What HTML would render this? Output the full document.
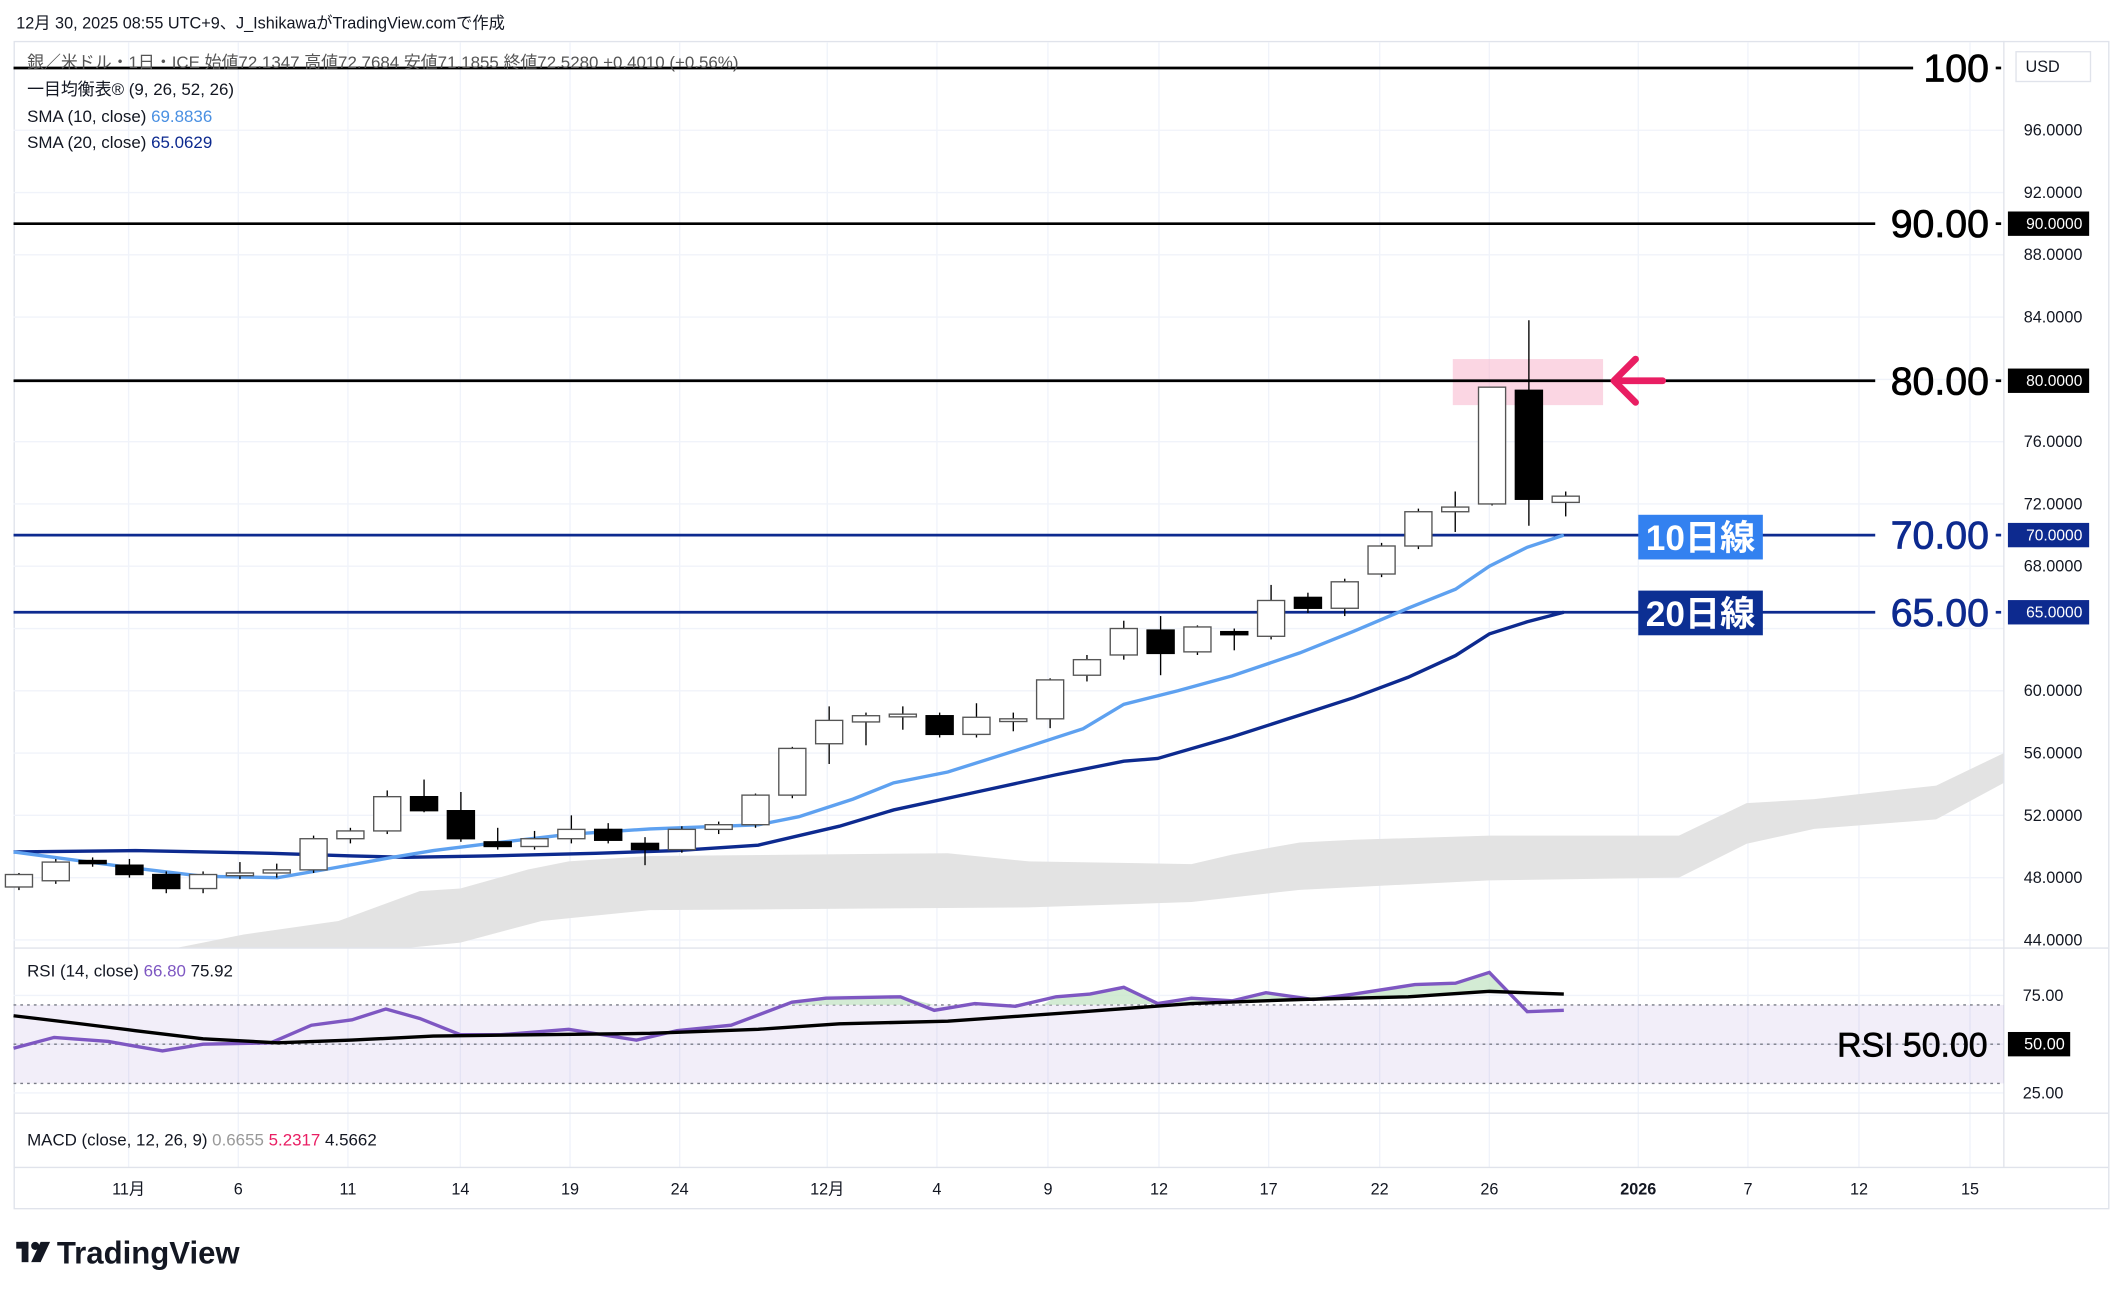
<!DOCTYPE html>
<html><head><meta charset="utf-8"><style>
html,body{margin:0;padding:0;background:#fff;}
svg{display:block;font-family:"Liberation Sans","Noto Sans CJK JP",sans-serif;}
</style></head><body>
<svg id="s" xmlns="http://www.w3.org/2000/svg" width="2123" height="1299" viewBox="0 0 1568 959">
<rect x="0" y="0" width="1568" height="959" fill="#fff"/>
<text x="12" y="21" font-size="12" fill="#131722">12月 30, 2025 08:55 UTC+9、J_IshikawaがTradingView.comで作成</text>
<rect x="10.5" y="30.5" width="1547" height="862" fill="none" stroke="#e0e3eb"/>
<g id="grid" stroke="#f0f3fa" stroke-width="1"></g>
<g id="cloud"></g>
<g id="pink"></g>
<g id="lines"></g>
<g id="candles"></g>
<g id="ann"></g>
<line x1="10" y1="700" x2="1557" y2="700" stroke="#e0e3eb"/>
<line x1="10" y1="822" x2="1557" y2="822" stroke="#e0e3eb"/>
<line x1="10" y1="862" x2="1557" y2="862" stroke="#e0e3eb"/>
<line x1="1480" y1="30" x2="1480" y2="862" stroke="#e0e3eb"/>
<g id="rsi"></g>
<g id="axis" font-size="12" fill="#131722"></g>
<g font-size="12.5" fill="#131722">
<text x="20" y="50" fill="#555">銀／米ドル・1日・ICE  始値72.1347  高値72.7684  安値71.1855  終値72.5280  +0.4010 (+0.56%)</text>
<text x="20" y="70">一目均衡表® (9, 26, 52, 26)</text>
<text x="20" y="90">SMA (10, close)  <tspan fill="#4a90e2">69.8836</tspan></text>
<text x="20" y="109">SMA (20, close)  <tspan fill="#0d2a8f">65.0629</tspan></text>
<text x="20" y="721">RSI (14, close)  <tspan fill="#7e57c2">66.80</tspan>  75.92</text>
<text x="20" y="846">MACD (close, 12, 26, 9)  <tspan fill="#999">0.6655</tspan>  <tspan fill="#e91e63">5.2317</tspan>  4.5662</text>
</g>
<g transform="translate(12,915)">
<rect x="0" y="2" width="9" height="5" fill="#131722"/><rect x="4" y="2" width="5" height="15" fill="#131722"/>
<circle cx="14" cy="5" r="3" fill="#131722"/><polygon points="18,2 25,2 18,17 11,17" fill="#131722"/>
<text x="30" y="18" font-size="23" font-weight="bold" fill="#131722">TradingView</text>
</g>
<script>
var NS="http://www.w3.org/2000/svg";
function el(p,t,a,txt){var e=document.createElementNS(NS,t);for(var k in a)e.setAttribute(k,a[k]);if(txt!==undefined)e.textContent=txt;document.getElementById(p).appendChild(e);return e;}
function Y(p){return 50+(100-p)*11.5;}
function X(i){return 14+i*27.2;}
var vx=[95,176,257,340,421,502,611,692,774,856,937,1019,1100,1210,1291,1373,1455];
vx.forEach(function(x){el("grid","line",{x1:x,y1:31,x2:x,y2:862});});
for(var p=44;p<=96;p+=4){el("grid","line",{x1:10,y1:Y(p),x2:1480,y2:Y(p)});}
[735,771,807].forEach(function(y){el("grid","line",{x1:10,y1:y,x2:1480,y2:y});});
el("cloud","polygon",{fill:"#e3e3e3",points:"130,700 180,690 250,680 310,658 340,656 390,642 420,636 480,632 700,630 760,636 880,638 910,631 960,622 1000,620 1100,617 1240,617 1290,593 1340,590 1430,580 1480,556 1480,578 1430,605 1340,612 1290,623 1240,648 1100,650 960,657 880,666 760,670 480,672 400,680 340,696 300,700"});
el("pink","rect",{x:1073,y:265,width:111,height:34,fill:"#f8bbd0","fill-opacity":0.6});
[[50,"#000",1413],[165,"#000",1385],[281,"#000",1385],[395,"#0d2a8f",1385],[452,"#0d2a8f",1385]].forEach(function(a){el("lines","line",{x1:10,y1:a[0],x2:a[2],y2:a[0],stroke:a[1],"stroke-width":2});
el("lines","line",{x1:1474,y1:a[0],x2:1478,y2:a[0],stroke:a[1],"stroke-width":2});});
el("lines","polyline",{fill:"none",stroke:"#0d2a8f","stroke-width":2.5,points:"10,629 100,628 200,630 260,632 300,633 360,632 440,630 500,628 560,624 620,610 660,598 720,585 780,572 830,562 855,560 910,544 960,528 1000,515 1040,500 1075,484 1100,468 1128,459 1155,452"});
el("lines","polyline",{fill:"none",stroke:"#5ea1f0","stroke-width":2.5,points:"10,629 100,641 150,647 205,648 240,642 290,633 320,628 360,623 420,616 480,612 560,609 590,603 630,590 660,578 700,570 760,551 800,538 830,520 870,510 910,499 960,482 1000,466 1040,449 1075,435 1100,418 1128,404 1155,395"});
var C=[[47.4,48.3,47.2,48.2],[47.8,49.2,47.6,49.0],[49.1,49.3,48.7,48.9],[48.8,49.2,48.0,48.2],[48.2,48.4,47.0,47.3],[47.3,48.4,47.0,48.2],[48.2,49.0,47.9,48.3],[48.3,48.9,48.0,48.5],[48.5,50.7,48.3,50.5],[50.5,51.2,50.2,51.0],[51.0,53.6,50.8,53.2],[53.2,54.3,52.2,52.3],[52.3,53.5,50.3,50.5],[50.3,51.2,49.8,50.0],[50.0,51.0,49.8,50.5],[50.5,52.0,50.2,51.1],[51.1,51.5,50.2,50.4],[50.2,50.6,48.8,49.8],[49.8,51.3,49.6,51.1],[51.1,51.6,50.8,51.4],[51.4,53.4,51.2,53.3],[53.3,56.4,53.1,56.3],[56.6,59.0,55.3,58.1],[58.0,58.6,56.5,58.4],[58.5,59.0,57.5,58.5],[58.4,58.6,57.0,57.2],[57.2,59.2,57.0,58.3],[58.2,58.6,57.4,58.2],[58.2,60.8,57.6,60.7],[61.0,62.3,60.6,62.0],[62.3,64.5,62.0,64.0],[63.9,64.8,61.0,62.4],[62.5,64.2,62.3,64.1],[63.8,64.0,62.6,63.6],[63.5,66.8,63.3,65.8],[66.0,66.3,65.0,65.3],[65.3,67.2,64.8,67.0],[67.5,69.5,67.3,69.3],[69.3,71.7,69.1,71.5],[71.5,72.8,70.2,71.8],[72.0,79.5,71.9,79.5],[79.3,83.8,70.6,72.3],[72.1,72.8,71.2,72.5]];
C.forEach(function(c,i){var x=X(i),o=c[0],h=c[1],l=c[2],cl=c[3],up=cl>=o;
el("candles","line",{x1:x,y1:Y(h),x2:x,y2:Y(l),stroke:"#000","stroke-width":1});
var t=Y(Math.max(o,cl)),b=Y(Math.min(o,cl));if(b-t<2)b=t+2;
el("candles","rect",{x:x-10,y:t,width:20,height:b-t,fill:up?"#fff":"#000",stroke:up?"#555":"#000","stroke-width":1});});
el("ann","polyline",{points:"1208,265 1192,281 1208,297",fill:"none",stroke:"#e91e63","stroke-width":5,"stroke-linecap":"round","stroke-linejoin":"round"});
el("ann","line",{x1:1193,y1:281,x2:1228,y2:281,stroke:"#e91e63","stroke-width":5,"stroke-linecap":"round"});
el("ann","rect",{x:1210,y:380,width:92,height:33,fill:"#3381f0"});
el("ann","text",{x:1256,y:406,"font-size":26,"font-weight":"bold",fill:"#fff","text-anchor":"middle"},"10日線");
el("ann","rect",{x:1210,y:436,width:92,height:33,fill:"#0c2f93"});
el("ann","text",{x:1256,y:462,"font-size":26,"font-weight":"bold",fill:"#fff","text-anchor":"middle"},"20日線");
[["100",50,"#000"],["90.00",165,"#000"],["80.00",281,"#000"],["70.00",395,"#0d2a8f"],["65.00",452,"#0d2a8f"]].forEach(function(a){
el("ann","text",{x:1469,y:a[1]+10,"font-size":29,fill:a[2],stroke:a[2],"stroke-width":0.6,"text-anchor":"end"},a[0]);});
[96,92,88,84,76,72,68,60,56,52,48,44].forEach(function(p){el("axis","text",{x:1538,y:Y(p)+4,"text-anchor":"end"},p.toFixed(4));});
el("axis","rect",{x:1489,y:38,width:55,height:22,fill:"#fff",stroke:"#e0e3eb"});
el("axis","text",{x:1496,y:53},"USD");
[[165,"#000","90.0000"],[281,"#000","80.0000"],[395,"#0d2a8f","70.0000"],[452,"#0d2a8f","65.0000"]].forEach(function(a){
el("axis","rect",{x:1483,y:a[0]-9,width:60,height:18,fill:a[1]});
el("axis","text",{x:1538,y:a[0]+4,"text-anchor":"end",fill:"#fff","font-size":11.5},a[2]);});
el("axis","text",{x:1524,y:739,"text-anchor":"end"},"75.00");
el("axis","text",{x:1524,y:811,"text-anchor":"end"},"25.00");
el("axis","rect",{x:1483,y:762,width:46,height:18,fill:"#000"});
el("axis","text",{x:1525,y:775,"text-anchor":"end",fill:"#fff"},"50.00");
var lab=["11月","6","11","14","19","24","12月","4","9","12","17","22","26","2026","7","12","15"];
lab.forEach(function(t,i){el("axis","text",{x:vx[i],y:882,"text-anchor":"middle","font-weight":t=="2026"?"bold":"normal"},t);});
el("rsi","rect",{x:10,y:742,width:1470,height:58,fill:"#7e57c2","fill-opacity":0.1});
[742,771,800].forEach(function(y){el("rsi","line",{x1:10,y1:y,x2:1480,y2:y,stroke:"#787b86","stroke-dasharray":"2,3"});});
el("rsi","polygon",{points:"585,740 610,737 665,736 690,742 585,742",fill:"#c8e6c9","fill-opacity":0.8});
el("rsi","polygon",{points:"770,742 780,736 805,734 830,729 855,741 880,737 910,739 935,733 970,738 1000,734 1045,727 1075,726 1100,718 1115,733 1100,733 1040,736 960,738 880,741 800,742",fill:"#c8e6c9","fill-opacity":0.8});
el("rsi","polyline",{fill:"none",stroke:"#7e57c2","stroke-width":2.5,points:"10,774 40,766 80,769 120,776 150,771 200,770 230,757 260,753 285,745 310,752 340,764 370,764 420,760 470,768 500,761 540,757 585,740 610,737 665,736 690,746 720,741 750,743 780,736 805,734 830,729 855,741 880,737 910,739 935,733 970,738 1000,734 1045,727 1075,726 1100,718 1128,747 1155,746"});
el("rsi","polyline",{fill:"none",stroke:"#000","stroke-width":2.5,points:"10,750 60,756 100,761 150,767 205,770 260,768 320,765 400,764 480,763 560,760 620,756 700,754 800,747 880,741 960,738 1040,736 1100,732 1155,734"});
el("rsi","text",{x:1468,y:780,"font-size":25,"text-anchor":"end",fill:"#000",stroke:"#000","stroke-width":0.5},"RSI 50.00");
</script>
</svg>
</body></html>
